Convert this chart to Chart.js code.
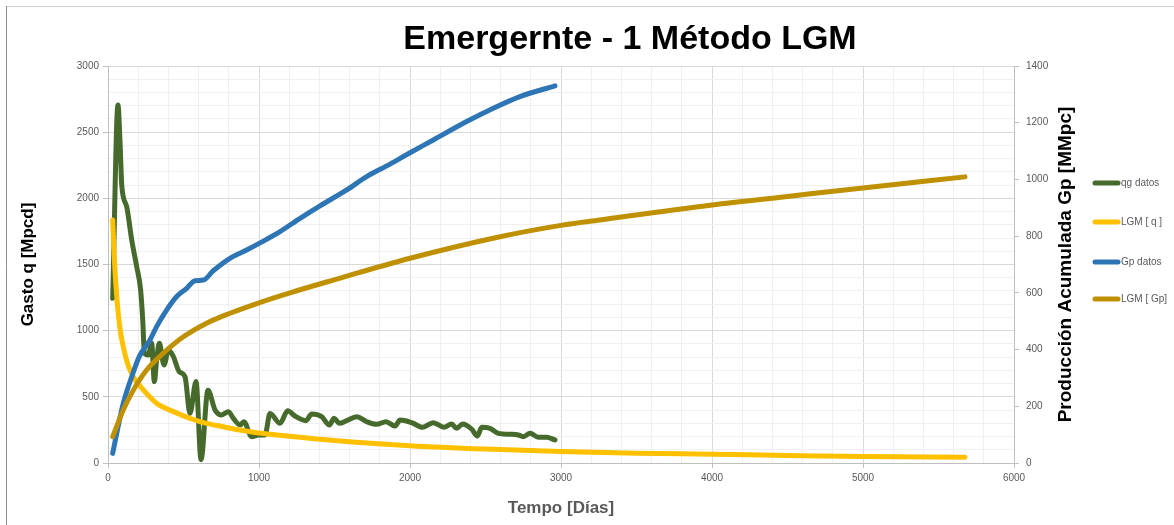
<!DOCTYPE html>
<html>
<head>
<meta charset="utf-8">
<script src="https://cdn.jsdelivr.net/npm/chart.js@4.4.1/dist/chart.umd.min.js"></script>
<style>
  html, body { margin: 0; padding: 0; background: #fff; }
  #wrap { width: 1174px; height: 525px; }
</style>
</head>
<body>
<div id="wrap"><canvas id="lgmChart" width="1174" height="525"></canvas></div>
<script>
// (dias = days, q in Mpcd, Gp in MMpc)
const qgDias = [31, 66, 80, 91, 124, 157, 190, 216, 230, 241, 267, 289, 307, 322, 340, 371, 400, 433, 472, 510,
    543, 583, 616, 662, 709, 753, 797, 830, 874, 900, 951, 996, 1040, 1073, 1139, 1190, 1238, 1311, 1349, 1415,
    1466, 1497, 1532, 1581, 1647, 1713, 1779, 1841, 1901, 1934, 2011, 2084, 2154, 2225, 2276, 2309, 2349, 2409,
    2446, 2475, 2530, 2585, 2662, 2717, 2750, 2795, 2850, 2905, 2960];
const qgDatos = [1245, 2706, 2416, 2100, 1937, 1686, 1484, 1308, 1081, 830, 816, 905, 615, 779, 905, 741, 854, 804, 690, 652,
    375, 615, 25, 550, 401, 363, 388, 338, 287, 312, 199, 212, 212, 375, 300, 395, 355, 320, 370, 350,
    287, 338, 300, 320, 350, 312, 292, 312, 280, 325, 305, 270, 305, 270, 295, 262, 295, 255,
    204, 270, 262, 224, 217, 212, 199, 224, 194, 194, 174];

const gpDias = [31, 101, 157, 207, 278, 322, 389, 455, 521, 576, 631, 697, 808, 918, 1010, 1139, 1272, 1404,
    1581, 1713, 1868, 2000, 2154, 2375, 2552, 2728, 2960];
const gpDatos = [34, 210, 304, 375, 434, 481, 540, 587, 616, 643, 645, 678, 722, 751, 777, 816, 863, 907,
    963, 1010, 1054, 1094, 1139, 1204, 1251, 1292, 1330];

const lgmQDias = [31, 45, 60, 80, 101, 130, 168, 234, 322, 433, 543, 653, 764, 874, 985, 1205, 1500, 2000,
    2500, 3000, 3500, 4000, 4500, 5000, 5675];
const lgmQ = [1837, 1480, 1230, 1010, 880, 750, 650, 552, 451, 388, 338, 300, 274, 249, 229, 202, 170, 131,
    105, 86, 74, 66, 57, 49, 43];

const lgmGpDias = [31, 101, 168, 256, 366, 499, 653, 808, 1000, 1205, 1492, 2000, 2596, 3000, 3258, 4000,
    4500, 5000, 5675];
const lgmGp = [93, 187, 257, 328, 387, 445, 493, 528, 565, 600, 645, 722, 798, 838, 857, 910, 940, 970, 1009];

const seriesNames = ['qg datos', 'LGM [ q ]', 'Gp datos', 'LGM [ Gp]'];
const seriesColours = ['#46692c', '#ffc000', '#2e75b6', '#bf9000'];

const toPoints = (xs, ys) => xs.map((x, i) => ({ x: x, y: ys[i] }));

const tickGrey = '#595959';
const majorGrid = '#d9d9d9';
const minorGrid = '#f0f0f0';
const axisGrey = '#bfbfbf';

// frame, title, right axis title and legend are drawn by hand
const decorations = {
    id: 'decorations',
    beforeDraw(chart) {
        const ctx = chart.ctx;
        ctx.save();
        ctx.fillStyle = '#fff';
        ctx.fillRect(0, 0, chart.width, chart.height);
        ctx.lineWidth = 1;
        ctx.strokeStyle = '#d0d0d0';
        ctx.beginPath();
        ctx.moveTo(6, 6.5);
        ctx.lineTo(chart.width, 6.5);
        ctx.stroke();
        ctx.strokeStyle = '#8c8c8c';
        ctx.beginPath();
        ctx.moveTo(6.5, 6);
        ctx.lineTo(6.5, chart.height);
        ctx.stroke();
        ctx.restore();
    },
    afterDraw(chart) {
        const ctx = chart.ctx;
        const area = chart.chartArea;
        ctx.save();
        ctx.fillStyle = '#000';
        ctx.font = 'bold 34px "Liberation Sans", Arial, sans-serif';
        ctx.textAlign = 'center';
        ctx.textBaseline = 'alphabetic';
        ctx.fillText('Emergernte - 1 Método LGM', 630, 49);

        // right axis title reads bottom to top
        ctx.translate(1066, (area.top + area.bottom) / 2);
        ctx.rotate(-Math.PI / 2);
        ctx.font = 'bold 19px "Liberation Sans", Arial, sans-serif';
        ctx.textBaseline = 'middle';
        ctx.fillText('Producción Acumulada Gp [MMpc]', 0, 0);
        ctx.restore();

        ctx.save();
        const legendY = [183, 222, 262, 299];
        chart.data.datasets.forEach((ds, i) => {
            ctx.strokeStyle = ds.borderColor;
            ctx.lineWidth = 5;
            ctx.lineCap = 'round';
            ctx.beginPath();
            ctx.moveTo(1095, legendY[i]);
            ctx.lineTo(1118, legendY[i]);
            ctx.stroke();
            ctx.fillStyle = tickGrey;
            ctx.font = '10px "Liberation Sans", Arial, sans-serif';
            ctx.textAlign = 'left';
            ctx.textBaseline = 'middle';
            ctx.fillText(ds.label, 1121, legendY[i]);
        });
        ctx.restore();
    }
};

const lineStyle = {
    borderWidth: 5,
    pointRadius: 0,
    fill: false,
    cubicInterpolationMode: 'monotone',
    borderCapStyle: 'round',
    borderJoinStyle: 'round'
};

new Chart(document.getElementById('lgmChart'), {
    type: 'line',
    data: {
        datasets: [
            { ...lineStyle, label: seriesNames[0], data: toPoints(qgDias, qgDatos), borderColor: seriesColours[0], yAxisID: 'y', order: 4 },
            { ...lineStyle, label: seriesNames[1], data: toPoints(lgmQDias, lgmQ), borderColor: seriesColours[1], yAxisID: 'y', order: 3 },
            { ...lineStyle, label: seriesNames[2], data: toPoints(gpDias, gpDatos), borderColor: seriesColours[2], yAxisID: 'y1', order: 2 },
            { ...lineStyle, label: seriesNames[3], data: toPoints(lgmGpDias, lgmGp), borderColor: seriesColours[3], yAxisID: 'y1', order: 1 }
        ]
    },
    options: {
        responsive: false,
        animation: false,
        layout: { padding: { left: 10, right: 0, top: 66, bottom: 0 } },
        plugins: {
            legend: { display: false },
            tooltip: { enabled: false },
            title: { display: false }
        },
        scales: {
            x: {
                type: 'linear',
                min: 0,
                max: 6000,
                afterFit: (scale) => { scale.height = 62; },
                ticks: {
                    stepSize: 200,
                    autoSkip: false,
                    maxRotation: 0,
                    padding: 4,
                    color: tickGrey,
                    font: { family: '"Liberation Sans", Arial, sans-serif', size: 10 },
                    callback: (v) => (v % 1000 === 0 ? String(v) : '')
                },
                grid: {
                    color: (c) => (c.tick && c.tick.value % 1000 === 0 ? majorGrid : minorGrid),
                    tickColor: (c) => (c.tick && c.tick.value % 1000 === 0 ? axisGrey : 'rgba(0,0,0,0)'),
                    tickLength: 5
                },
                border: { color: axisGrey },
                title: {
                    display: true,
                    text: 'Tempo [Días]',
                    color: tickGrey,
                    font: { family: '"Liberation Sans", Arial, sans-serif', size: 17, weight: 'bold' },
                    padding: { top: 0, bottom: 6 }
                }
            },
            y: {
                position: 'left',
                min: 0,
                max: 3000,
                afterFit: (scale) => { scale.width = 98; },
                ticks: {
                    stepSize: 100,
                    autoSkip: false,
                    padding: 4,
                    color: tickGrey,
                    font: { family: '"Liberation Sans", Arial, sans-serif', size: 10 },
                    callback: (v) => (v % 500 === 0 ? String(v) : '')
                },
                grid: {
                    color: (c) => (c.tick && c.tick.value % 500 === 0 ? majorGrid : minorGrid),
                    tickColor: (c) => (c.tick && c.tick.value % 500 === 0 ? axisGrey : 'rgba(0,0,0,0)'),
                    tickLength: 5
                },
                border: { color: axisGrey },
                title: {
                    display: true,
                    text: 'Gasto q [Mpcd]',
                    color: '#000',
                    font: { family: '"Liberation Sans", Arial, sans-serif', size: 17, weight: 'bold' },
                    padding: { top: 8, bottom: 0 }
                }
            },
            y1: {
                position: 'right',
                min: 0,
                max: 1400,
                afterFit: (scale) => { scale.width = 160; },
                ticks: {
                    stepSize: 200,
                    padding: 7,
                    color: tickGrey,
                    font: { family: '"Liberation Sans", Arial, sans-serif', size: 10 },
                    callback: (v) => String(v)
                },
                grid: {
                    drawOnChartArea: false,
                    tickColor: axisGrey,
                    tickLength: 5
                },
                border: { color: axisGrey }
            }
        }
    },
    plugins: [decorations]
});
</script>
</body>
</html>
